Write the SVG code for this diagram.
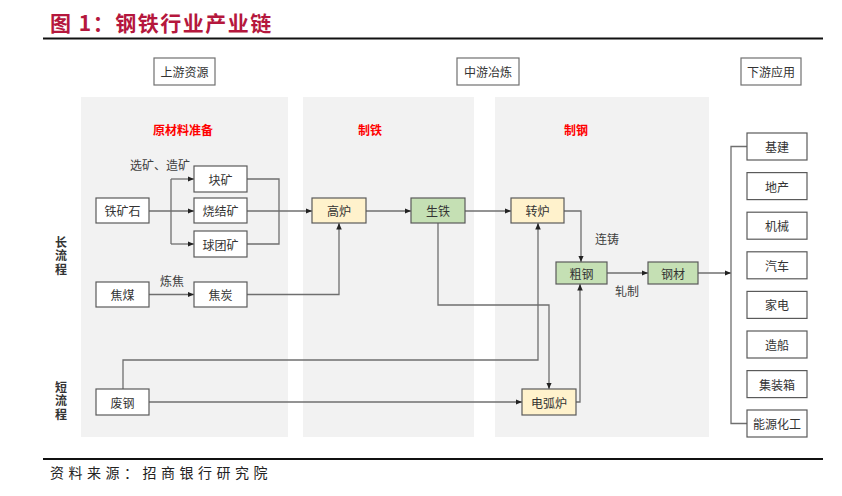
<svg xmlns="http://www.w3.org/2000/svg" width="842" height="496" viewBox="0 0 842 496">
<defs>
<marker id="arr" markerUnits="userSpaceOnUse" markerWidth="7" markerHeight="6" refX="6.5" refY="2.75" orient="auto">
<path d="M0,0 L6.5,2.75 L0,5.5 z" fill="#222"/>
</marker>
<style>
.t{font-family:"Noto Sans CJK SC","Liberation Sans",sans-serif;font-size:12px;fill:#333;text-anchor:middle;dominant-baseline:central}
.lbl{font-family:"Noto Sans CJK SC","Liberation Sans",sans-serif;font-size:12px;fill:#404040;text-anchor:middle;dominant-baseline:central}
.sec{font-family:"Noto Sans CJK SC","Liberation Sans",sans-serif;font-size:12px;font-weight:bold;fill:#ff0000;text-anchor:middle;dominant-baseline:central}
.side{font-family:"Noto Sans CJK SC",serif;font-size:12px;font-weight:bold;fill:#333;writing-mode:vertical-rl;text-anchor:start;letter-spacing:1.5px}
.panel{fill:#f2f2f2}
.box{fill:#fff;stroke:#5a5a5a;stroke-width:1.2}
.hdr{fill:#fff;stroke:#707070;stroke-width:1.2}
.yel{fill:#fff2cc;stroke:#5a5a5a;stroke-width:1.2}
.grn{fill:#c5e0b4;stroke:#5a5a5a;stroke-width:1.2}
.ln{fill:none;stroke:#6f6f6f;stroke-width:1.3}
.ar{marker-end:url(#arr)}
</style>
</defs>
<rect width="842" height="496" fill="#fff"/>
<text x="50" y="31" font-family="Noto Sans CJK SC,Liberation Sans,sans-serif" font-size="21" font-weight="bold" fill="#b5173d" letter-spacing="1.5">图 1：钢铁行业产业链</text>
<line x1="43" y1="38.5" x2="823" y2="38.5" stroke="#111" stroke-width="2"/>
<line x1="43" y1="459" x2="823" y2="459" stroke="#111" stroke-width="2"/>
<text x="50" y="478" font-family="Noto Sans CJK SC,serif" font-size="14" fill="#222" letter-spacing="4.5">资料来源：招商银行研究院</text>

<g id="panels">
<rect class="panel" x="81" y="97" width="207" height="340"/>
<rect class="panel" x="303" y="97" width="171" height="340"/>
<rect class="panel" x="495" y="97" width="214" height="340"/>
</g>

<g id="headers">
<g id="h-up"><rect class="hdr" x="154" y="58" width="61" height="27"/><text class="t" x="184.5" y="71.5">上游资源</text></g>
<g id="h-mid"><rect class="hdr" x="457" y="58" width="62" height="27"/><text class="t" x="488" y="71.5">中游冶炼</text></g>
<g id="h-down"><rect class="hdr" x="741" y="58" width="60" height="27"/><text class="t" x="771" y="71.5">下游应用</text></g>
</g>

<g id="sections">
<text class="sec" x="183" y="129">原材料准备</text>
<text class="sec" x="370" y="129">制铁</text>
<text class="sec" x="576" y="129">制钢</text>
</g>

<g id="side-labels">
<text class="side" x="61" y="236">长流程</text>
<text class="side" x="61" y="381">短流程</text>
</g>

<g id="connectors">
<path class="ln ar" d="M149,211 H194"/>
<path class="ln" d="M171,179 V244"/>
<path class="ln ar" d="M171,179 H194"/>
<path class="ln ar" d="M171,244 H194"/>
<path class="ln" d="M247,179 H279 V244 H247"/>
<path class="ln ar" d="M247,211 H312"/>
<path class="ln ar" d="M149,294.5 H194"/>
<path class="ln ar" d="M247,294.5 H339 V223"/>
<path class="ln ar" d="M366,211 H411"/>
<path class="ln ar" d="M465,211 H511"/>
<path class="ln ar" d="M564,211 H581 V262"/>
<path class="ln ar" d="M438,223 V305 H549 V389"/>
<path class="ln ar" d="M123,389 V360 H538 V223"/>
<path class="ln ar" d="M149,402 H522"/>
<path class="ln ar" d="M576,402 H580 V284"/>
<path class="ln ar" d="M607,273 H648"/>
<path class="ln ar" d="M698,273 H731"/>
<path class="ln" d="M747,146.5 H731 V423.5 H747"/>
</g>

<g id="edge-labels">
<text class="lbl" x="160" y="164">选矿、造矿</text>
<text class="lbl" x="172" y="280">炼焦</text>
<text class="lbl" x="607" y="238">连铸</text>
<text class="lbl" x="627" y="290">轧制</text>
</g>

<g id="n-tiekuangshi"><rect class="box" x="96" y="198" width="53" height="25"/><text class="t" x="122.5" y="210.5">铁矿石</text></g>
<g id="n-kuaikuang"><rect class="box" x="194" y="166" width="53" height="26"/><text class="t" x="220.5" y="179">块矿</text></g>
<g id="n-shaojiekuang"><rect class="box" x="194" y="198" width="53" height="25"/><text class="t" x="220.5" y="210.5">烧结矿</text></g>
<g id="n-qiutuankuang"><rect class="box" x="194" y="231" width="53" height="26"/><text class="t" x="220.5" y="244">球团矿</text></g>
<g id="n-jiaomei"><rect class="box" x="96" y="282" width="53" height="25"/><text class="t" x="122.5" y="294.5">焦煤</text></g>
<g id="n-jiaotan"><rect class="box" x="194" y="282" width="53" height="25"/><text class="t" x="220.5" y="294.5">焦炭</text></g>
<g id="n-feigang"><rect class="box" x="96" y="389" width="53" height="26"/><text class="t" x="122.5" y="402">废钢</text></g>
<g id="n-gaolu"><rect class="yel" x="312" y="198" width="54" height="25"/><text class="t" x="339" y="210.5">高炉</text></g>
<g id="n-shengtie"><rect class="grn" x="411" y="198" width="54" height="25"/><text class="t" x="438" y="210.5">生铁</text></g>
<g id="n-zhuanlu"><rect class="yel" x="511" y="198" width="53" height="25"/><text class="t" x="537.5" y="210.5">转炉</text></g>
<g id="n-cugang"><rect class="grn" x="556" y="262" width="51" height="22"/><text class="t" x="581.5" y="273">粗钢</text></g>
<g id="n-dianhulu"><rect class="yel" x="522" y="389" width="54" height="26"/><text class="t" x="549" y="402">电弧炉</text></g>
<g id="n-gangcai"><rect class="grn" x="648" y="262" width="50" height="22"/><text class="t" x="673" y="273">钢材</text></g>

<g id="n-jijian"><rect class="box" x="747" y="133" width="60" height="27"/><text class="t" x="777" y="146.5">基建</text></g>
<g id="n-dichan"><rect class="box" x="747" y="172.6" width="60" height="27"/><text class="t" x="777" y="186.1">地产</text></g>
<g id="n-jixie"><rect class="box" x="747" y="212.2" width="60" height="27"/><text class="t" x="777" y="225.7">机械</text></g>
<g id="n-qiche"><rect class="box" x="747" y="251.8" width="60" height="27"/><text class="t" x="777" y="265.3">汽车</text></g>
<g id="n-jiadian"><rect class="box" x="747" y="291.4" width="60" height="27"/><text class="t" x="777" y="304.9">家电</text></g>
<g id="n-zaochuan"><rect class="box" x="747" y="331" width="60" height="27"/><text class="t" x="777" y="344.5">造船</text></g>
<g id="n-jizhuangxiang"><rect class="box" x="747" y="370.6" width="60" height="27"/><text class="t" x="777" y="384.1">集装箱</text></g>
<g id="n-nengyuan"><rect class="box" x="747" y="410" width="60" height="27"/><text class="t" x="777" y="423.5">能源化工</text></g>
</svg>
